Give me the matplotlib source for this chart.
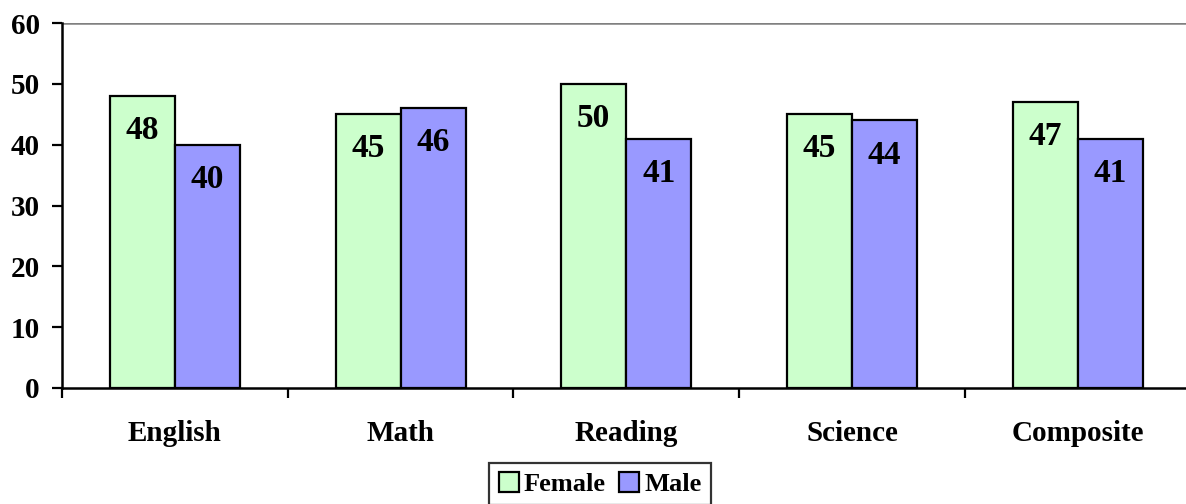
import numpy as np
from matplotlib import pyplot as plt

# data
subjects = ["English", "Math", "Reading", "Science", "Composite"]
female = [48, 45, 50, 45, 47]
male = [40, 46, 41, 44, 41]
y_ticks = [0, 10, 20, 30, 40, 50, 60]

plt.rcParams["font.family"] = ["Liberation Serif", "DejaVu Serif"]
plt.rcParams["font.weight"] = "bold"

fig = plt.figure(figsize=(11.86, 5.04), dpi=100)
ax = fig.add_axes([62 / 1186, 116 / 504, 1128.5 / 1186, 365 / 504])

x = np.arange(len(subjects)) + 0.5
w = 0.288
b1 = ax.bar(x - w / 2, female, w, color="#CCFFCC", edgecolor="black",
            linewidth=1.6, label="Female")
b2 = ax.bar(x + w / 2, male, w, color="#9999FF", edgecolor="black",
            linewidth=1.6, label="Male")

for bars, vals in ((b1, female), (b2, male)):
    for rect, v in zip(bars, vals):
        ax.annotate(str(v), (rect.get_x() + rect.get_width() / 2, v),
                    xytext=(0, -25), textcoords="offset points",
                    ha="center", va="center", fontsize=24, fontweight="bold")

ax.set_xlim(0, len(subjects))
ax.set_ylim(0, 60)
ax.axhline(60, color="#808080", linewidth=1.8, zorder=0)

ax.set_yticks(y_ticks)
ax.set_yticklabels([str(t) for t in y_ticks], fontsize=21, fontweight="bold")
ax.tick_params(axis="y", direction="out", length=7, width=1.6, pad=9)

ax.set_xticks(x)
ax.set_xticklabels(subjects, fontsize=21, fontweight="bold")
ax.set_xticks(np.arange(len(subjects) + 1), minor=True)
ax.tick_params(axis="x", which="major", length=0, pad=23)
ax.tick_params(axis="x", which="minor", direction="out", length=7, width=1.6)

for s in ("top", "right"):
    ax.spines[s].set_visible(False)
for s in ("left", "bottom"):
    ax.spines[s].set_linewidth(1.8)

leg = fig.legend(loc="upper center", bbox_to_anchor=(600 / 1186, 41 / 504),
                 ncol=2, fontsize=19, fancybox=False, edgecolor="black",
                 handlelength=0.75, handleheight=0.75, handletextpad=0.2,
                 columnspacing=0.5, borderpad=0.35, borderaxespad=0)
leg.get_frame().set_linewidth(1.6)
for t in leg.get_texts():
    t.set_fontweight("bold")

fig.savefig("out.png", dpi=100)
